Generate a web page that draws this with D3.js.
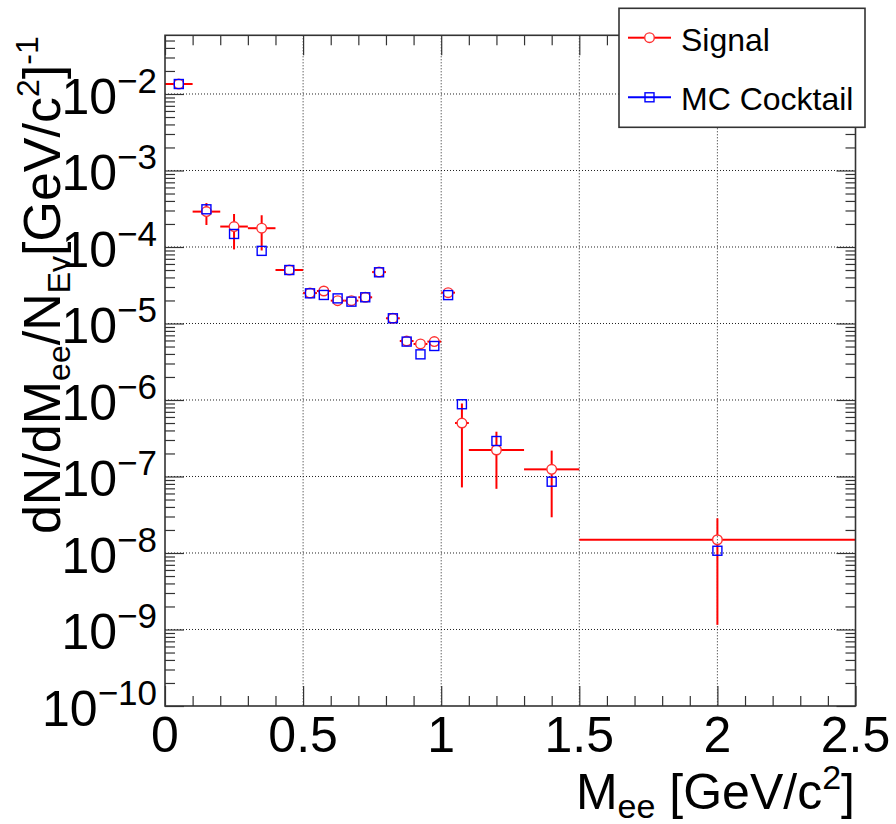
<!DOCTYPE html>
<html>
<head>
<meta charset="utf-8">
<script src="https://cdn.jsdelivr.net/npm/d3@7"></script>
<style>
  html, body { margin: 0; padding: 0; background: #fff; }
  svg { display: block; font-family: "Liberation Sans", Arial, Helvetica, sans-serif; }
</style>
</head>
<body>
<svg id="chart" width="896" height="824"></svg>
<script>
// ---------------- data ----------------
const binLow    = [0.00, 0.10, 0.20, 0.30, 0.40, 0.50, 0.55, 0.60, 0.65, 0.70, 0.75, 0.80, 0.85, 0.90, 0.95, 1.00, 1.05, 1.10, 1.30, 1.50];
const binHigh   = [0.10, 0.20, 0.30, 0.40, 0.50, 0.55, 0.60, 0.65, 0.70, 0.75, 0.80, 0.85, 0.90, 0.95, 1.00, 1.05, 1.10, 1.30, 1.50, 2.50];
const binCenter = [0.05, 0.15, 0.25, 0.35, 0.45, 0.525, 0.575, 0.625, 0.675, 0.725, 0.775, 0.825, 0.875, 0.925, 0.975, 1.025, 1.075, 1.20, 1.40, 2.00];

const signal     = [1.35e-2, 2.9e-4, 1.85e-4, 1.76e-4, 5.0e-5, 2.50e-5, 2.66e-5, 1.99e-5, 1.99e-5, 2.20e-5, 4.70e-5, 1.17e-5, 5.9e-6, 5.4e-6, 5.8e-6, 2.53e-5, 5.0e-7, 2.22e-7, 1.24e-7, 1.49e-8];
const signalHigh = [1.40e-2, 3.75e-4, 2.7e-4, 2.6e-4, 5.2e-5, 2.60e-5, 2.76e-5, 2.06e-5, 2.06e-5, 2.28e-5, 4.86e-5, 1.21e-5, 6.1e-6, 5.6e-6, 6.0e-6, 2.61e-5, 9.0e-7, 3.85e-7, 2.18e-7, 2.84e-8];
const signalLow  = [1.30e-2, 1.94e-4, 9.3e-5, 9.0e-5, 4.8e-5, 2.40e-5, 2.56e-5, 1.92e-5, 1.92e-5, 2.12e-5, 4.55e-5, 1.13e-5, 5.7e-6, 5.2e-6, 5.6e-6, 2.45e-5, 7.2e-8, 6.9e-8, 2.93e-8, 1.15e-9];
const cocktail   = [1.35e-2, 3.11e-4, 1.48e-4, 8.9e-5, 5.0e-5, 2.48e-5, 2.36e-5, 2.13e-5, 1.93e-5, 2.20e-5, 4.67e-5, 1.17e-5, 5.8e-6, 3.95e-6, 5.08e-6, 2.35e-5, 8.8e-7, 2.91e-7, 8.55e-8, 1.07e-8];

const xMajorTicks = [0, 0.5, 1, 1.5, 2, 2.5];
const xTickLabels = ["0", "0.5", "1", "1.5", "2", "2.5"];
const yDecades    = [-10, -9, -8, -7, -6, -5, -4, -3, -2];
const legendLabels = ["Signal", "MC Cocktail"];

// ---------------- layout ----------------
const svg = d3.select("#chart");
const L = 165, R = 855.5, T = 35.3, B = 706;
const x = d3.scaleLinear().domain([0, 2.5]).range([L, R]);
const y = d3.scaleLog().domain([1e-10, 0.0585]).range([B, T]);

const RED = "#ff0000", BLUE = "#0000ff", FRAME = "#333";

// grid
const grid = svg.append("g").attr("stroke", "#222").attr("stroke-width", 1).attr("stroke-dasharray", "1,2");
xMajorTicks.filter(v => v > 0 && v < 2.5).forEach(v => {
  grid.append("line").attr("x1", x(v)).attr("x2", x(v)).attr("y1", T).attr("y2", B);
});
yDecades.filter(d => d > -10).forEach(d => {
  grid.append("line").attr("x1", L).attr("x2", R).attr("y1", y(Math.pow(10, d))).attr("y2", y(Math.pow(10, d)));
});

// ---------------- data marks ----------------
const data = binCenter.map((c, i) => ({
  c, lo: binLow[i], hi: binHigh[i],
  s: signal[i], sh: signalHigh[i], sl: signalLow[i], mc: cocktail[i]
}));

const rC = 4.8, sq = 9;
const eb = svg.append("g").attr("stroke", RED).attr("stroke-width", 2).attr("fill", "none");
data.forEach(d => {
  const cx = x(d.c), cy = y(d.s);
  const xl = x(d.lo), xr = x(d.hi);
  if (cx - rC > xl) eb.append("line").attr("x1", xl).attr("x2", cx - rC).attr("y1", cy).attr("y2", cy);
  if (xr > cx + rC) eb.append("line").attr("x1", cx + rC).attr("x2", xr).attr("y1", cy).attr("y2", cy);
  const yu = y(d.sh), yl = y(d.sl);
  if (cy - rC > yu) eb.append("line").attr("x1", cx).attr("x2", cx).attr("y1", yu).attr("y2", cy - rC);
  if (yl > cy + rC) eb.append("line").attr("x1", cx).attr("x2", cx).attr("y1", cy + rC).attr("y2", yl);
});

svg.append("g").selectAll("circle").data(data).join("circle")
  .attr("cx", d => x(d.c)).attr("cy", d => y(d.s)).attr("r", rC)
  .attr("fill", "none").attr("stroke", "#ff3030").attr("stroke-width", 1.4);

svg.append("g").selectAll("rect").data(data).join("rect")
  .attr("x", d => x(d.c) - sq / 2).attr("y", d => y(d.mc) - sq / 2)
  .attr("width", sq).attr("height", sq)
  .attr("fill", "none").attr("stroke", BLUE).attr("stroke-width", 1.4);

// ---------------- frame & ticks ----------------
const xMinor = d3.range(0, 26).map(i => i / 10).filter(v => !xMajorTicks.some(m => Math.abs(m - v) < 1e-9));
const yMinor = [];
for (let d = -11; d <= -2; d++) for (let k = 2; k <= 9; k++) {
  const v = k * Math.pow(10, d);
  if (v > 1e-10 && v < 0.0585) yMinor.push(v);
}
const yMajor = yDecades.map(d => Math.pow(10, d));

function axisG(gen, tx, ty) {
  const g = svg.append("g").attr("transform", `translate(${tx},${ty})`).call(gen);
  g.select(".domain").remove();
  g.selectAll("text").remove();
  g.selectAll("line").attr("stroke", FRAME).attr("stroke-width", 1.2);
  return g;
}
axisG(d3.axisBottom(x).tickValues(xMajorTicks).tickSize(-20), 0, B);
axisG(d3.axisBottom(x).tickValues(xMinor).tickSize(-10), 0, B);
axisG(d3.axisTop(x).tickValues(xMajorTicks).tickSize(-20), 0, T);
axisG(d3.axisTop(x).tickValues(xMinor).tickSize(-10), 0, T);
axisG(d3.axisLeft(y).tickValues(yMajor).tickSize(-19), L, 0);
axisG(d3.axisLeft(y).tickValues(yMinor).tickSize(-10), L, 0);
axisG(d3.axisRight(y).tickValues(yMajor).tickSize(-19), R, 0);
axisG(d3.axisRight(y).tickValues(yMinor).tickSize(-10), R, 0);

svg.append("rect").attr("x", L).attr("y", T).attr("width", R - L).attr("height", B - T)
  .attr("fill", "none").attr("stroke", FRAME).attr("stroke-width", 1.6);

// tick labels
const LABEL = 50, SUP = 35;
svg.append("g").selectAll("text").data(xMajorTicks).join("text")
  .attr("x", d => x(d)).attr("y", 752).attr("text-anchor", "middle")
  .attr("font-size", LABEL).attr("fill", "#000")
  .text((d, i) => xTickLabels[i]);

yDecades.forEach(d => {
  const t = svg.append("text").attr("x", 157).attr("y", y(Math.pow(10, d)) + 20)
    .attr("text-anchor", "end").attr("font-size", LABEL).attr("fill", "#000");
  t.append("tspan").text("10");
  t.append("tspan").attr("dy", -21).attr("font-size", SUP).text("\u2212" + Math.abs(d));
});

// axis titles
const xt = svg.append("text").attr("x", 855).attr("y", 809).attr("text-anchor", "end")
  .attr("font-size", 50).attr("fill", "#000");
xt.append("tspan").text("M");
xt.append("tspan").attr("dy", 9).attr("font-size", 34).text("ee");
xt.append("tspan").attr("dy", -9).text(" [GeV/c");
xt.append("tspan").attr("dy", -20).attr("font-size", 34).text("2");
xt.append("tspan").attr("dy", 20).text("]");

const yt = svg.append("text").attr("transform", `translate(60,${T + 1}) rotate(-90)`)
  .attr("text-anchor", "end").attr("font-size", 52).attr("fill", "#000");
yt.append("tspan").text("dN/dM");
yt.append("tspan").attr("dy", 10).attr("font-size", 32).text("ee");
yt.append("tspan").attr("dy", -10).text("/N");
yt.append("tspan").attr("dy", 10).attr("font-size", 32).text("Ev");
yt.append("tspan").attr("dy", -10).text("[GeV/c");
yt.append("tspan").attr("dy", -21).attr("font-size", 32).text("2");
yt.append("tspan").attr("dy", 21).text("]");
yt.append("tspan").attr("dy", -22).attr("font-size", 32).text("-1");

// ---------------- legend ----------------
const lg = svg.append("g");
lg.append("rect").attr("x", 619).attr("y", 8.3).attr("width", 246).attr("height", 119)
  .attr("fill", "#fff").attr("stroke", FRAME).attr("stroke-width", 1.6);
const legendRows = [
  { label: legendLabels[0], color: RED, ly: 37.7, ty: 50.5, marker: "circle" },
  { label: legendLabels[1], color: BLUE, ly: 97.3, ty: 110, marker: "square" }
];
legendRows.forEach(r => {
  const mx = 649.5;
  if (r.marker === "circle") {
    lg.append("line").attr("x1", 628).attr("x2", mx - rC).attr("y1", r.ly).attr("y2", r.ly).attr("stroke", r.color).attr("stroke-width", 2);
    lg.append("line").attr("x1", mx + rC).attr("x2", 671).attr("y1", r.ly).attr("y2", r.ly).attr("stroke", r.color).attr("stroke-width", 2);
    lg.append("circle").attr("cx", mx).attr("cy", r.ly).attr("r", rC).attr("fill", "none").attr("stroke", "#ff3030").attr("stroke-width", 1.4);
  } else {
    lg.append("line").attr("x1", 628).attr("x2", 671).attr("y1", r.ly).attr("y2", r.ly).attr("stroke", r.color).attr("stroke-width", 2);
    lg.append("rect").attr("x", mx - sq / 2).attr("y", r.ly - sq / 2).attr("width", sq).attr("height", sq).attr("fill", "none").attr("stroke", r.color).attr("stroke-width", 1.4);
  }
  lg.append("text").attr("x", 681).attr("y", r.ty).attr("font-size", 32).attr("fill", "#000").text(r.label);
});
</script>
</body>
</html>
